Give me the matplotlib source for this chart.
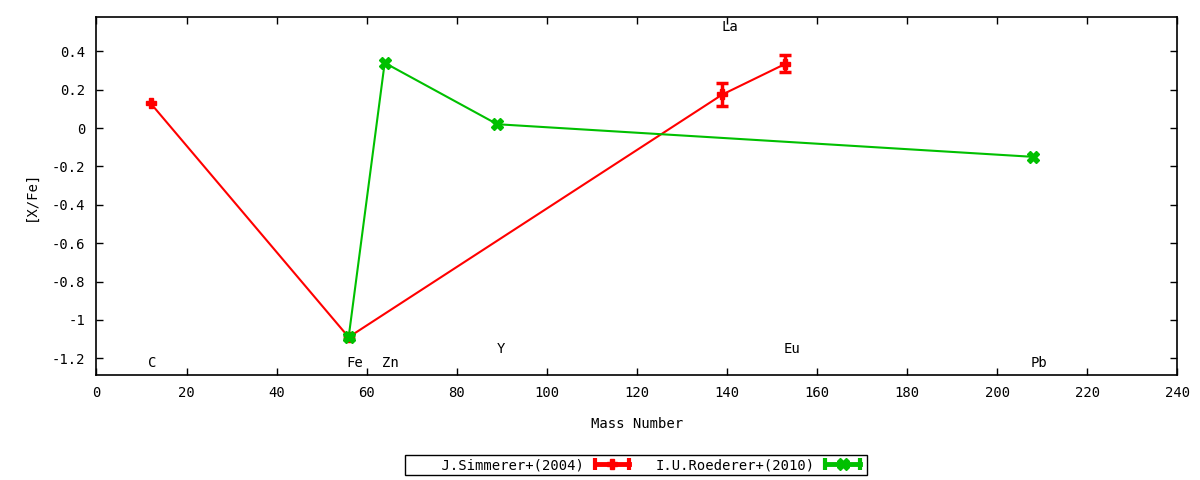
import matplotlib
matplotlib.use("Agg")
import matplotlib.pyplot as plt
from matplotlib.lines import Line2D
from matplotlib.legend_handler import HandlerLine2D, HandlerTuple

plt.rcParams['font.family'] = ['DejaVu Sans Mono']
plt.rcParams['font.size'] = 10

# J.Simmerer+(2004)
sim_mass = [12, 56, 139, 153]
sim_xfe = [0.13, -1.09, 0.175, 0.335]
sim_err = [0.0, 0.0, 0.06, 0.045]

# I.U.Roederer+(2010)
roe_mass = [56, 64, 89, 208]
roe_xfe = [-1.09, 0.34, 0.02, -0.15]
roe_err = [0.012, 0.0, 0.0, 0.0]

# element labels
elem_names = ['C', 'Fe', 'Zn', 'Y', 'La', 'Eu', 'Pb']
elem_x = [11.4, 55.5, 63.5, 88.8, 138.8, 152.7, 207.4]
elem_y = [-1.225, -1.225, -1.225, -1.152, 0.526, -1.152, -1.225]

red = '#ff0000'
green = '#00c000'

fig = plt.figure(figsize=(12, 4.8), dpi=100)
ax = fig.add_axes([0.0804, 0.2188, 0.9006, 0.7458])


def draw_series(mass, val, err, color, mk, ms, z):
    ax.plot(mass, val, color=color, lw=1.5, marker=mk, markersize=ms, zorder=z)
    idx = [i for i, e in enumerate(err) if e > 0]
    if idx:
        ax.errorbar([mass[i] for i in idx], [val[i] for i in idx],
                    yerr=[err[i] for i in idx], fmt='none', ecolor=color,
                    elinewidth=2.5, capsize=4, capthick=2.5, zorder=z)


draw_series(sim_mass, sim_xfe, sim_err, red, 'P', 7, 3)
draw_series(roe_mass, roe_xfe, roe_err, green, 'X', 8, 4)

for name, x, y in zip(elem_names, elem_x, elem_y):
    ax.text(x, y, name, ha='left', va='center', fontsize=10)

ax.set_xlim(0, 240)
ax.set_ylim(-1.287, 0.579)
ax.set_xticks(range(0, 241, 20))
ax.set_yticks([0.4, 0.2, 0, -0.2, -0.4, -0.6, -0.8, -1, -1.2])
ax.set_yticklabels(['0.4', '0.2', '0', '-0.2', '-0.4', '-0.6', '-0.8', '-1', '-1.2'])
ax.tick_params(direction='in', top=True, right=True, length=5, width=1, pad=8)
for s in ax.spines.values():
    s.set_linewidth(1.2)

ax.set_xlabel('Mass Number', labelpad=12)
ax.set_ylabel('[X/Fe]', labelpad=10)

# gnuplot-like legend samples
def sample(color, mk, ms):
    caps = Line2D([], [], color=color, lw=3.5, marker='|', markersize=9,
                  markeredgewidth=3)
    pt = Line2D([], [], color=color, lw=0, marker=mk, markersize=ms)
    return caps, pt

c1, p1 = sample(red, 'P', 7)
c2, p2 = sample(green, 'X', 8)
hmap = {c1: HandlerLine2D(numpoints=2), c2: HandlerLine2D(numpoints=2),
        p1: HandlerLine2D(numpoints=1), p2: HandlerLine2D(numpoints=1),
        tuple: HandlerTuple(ndivide=1)}
leg = fig.legend([(c1, p1), (c2, p2)], ['    J.Simmerer+(2004)', 'I.U.Roederer+(2010)'],
                 handler_map=hmap, loc='center', bbox_to_anchor=(0.53, 0.031),
                 ncol=2, markerfirst=False, fancybox=False, framealpha=1,
                 edgecolor='black', borderpad=0.2, handlelength=3.1,
                 columnspacing=1.55, handletextpad=0.5, borderaxespad=0)
leg.get_frame().set_linewidth(1.0)

fig.savefig('out.png', dpi=100)
